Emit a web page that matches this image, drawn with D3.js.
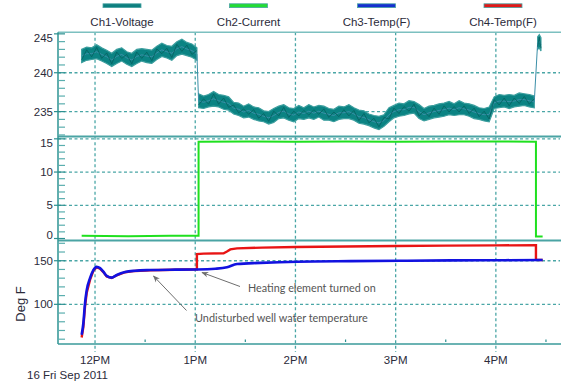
<!DOCTYPE html>
<html><head><meta charset="utf-8">
<script src="https://cdn.jsdelivr.net/npm/d3@7"></script>
<style>body{margin:0;background:#fff}svg{display:block}</style>
</head><body>
<svg id="c" width="561" height="383"></svg>
<script>
// ---------- data ----------
const DAY = "2011-09-16";
const xDomain = ["11:37:50", "16:38:24"];
const hourTicks = ["12:00", "13:00", "14:00", "15:00", "16:00"];
const hourLabels = ["12PM", "1PM", "2PM", "3PM", "4PM"];
const halfHourTicks = ["12:30", "13:30", "14:30", "15:30", "16:30"];
const dateLabel = "16 Fri Sep 2011";

const legendNames = ["Ch1-Voltage", "Ch2-Current", "Ch3-Temp(F)", "Ch4-Temp(F)"];

// Ch1 voltage: noisy band, sampled as low/high envelope
const voltSegStart = ["11:52", "13:02", "16:25"];
const voltSegStepMin = [3, 3, 1];
const voltHiA = [243.0,243.3,243.2,243.6,243.2,242.9,242.5,243.0,243.2,242.7,242.5,243.0,243.1,243.0,242.9,243.4,243.8,243.5,243.4,244.0,244.3,243.9,243.7,243.2];
const voltLoA = [241.3,241.6,241.7,241.8,241.5,241.2,240.8,241.2,241.5,241.1,240.8,241.2,241.5,241.3,241.2,241.7,242.1,241.9,241.6,242.2,242.4,242.2,242.0,241.6];
const voltHiB = [237.3,237.0,237.2,237.6,237.2,237.1,236.9,236.2,236.1,235.7, 236.0,235.6,235.5,235.1,235.0,235.4,235.7,235.9,235.5,235.4, 235.8,235.5,235.9,235.6,235.8,235.7,235.4,235.3,235.7,235.6, 235.9,235.5,235.2,235.1,234.7,234.5,234.4,234.6,235.5,235.8, 236.1,236.0,236.4,236.3,235.9,235.4,235.7,235.8,236.0,236.1, 236.3,236.0,236.4,236.1,236.0,235.8,235.5,235.4,235.6,236.9, 237.2,237.1,237.2,237.1,237.4,237.3,237.2,237.0];
const voltLoB = [235.5,235.4,235.6,235.7,235.6,235.3,235.2,234.7,234.5,234.2, 234.3,234.0,233.8,233.7,233.4,233.6,234.1,234.2,233.9,233.7, 234.1,234.0,234.2,234.0,234.3,233.9,233.9,233.7,234.0,234.1, 234.1,233.9,233.5,233.4,233.2,232.9,232.7,233.1,233.7,234.2, 234.4,234.5,234.7,234.8,234.1,233.8,234.0,234.2,234.3,234.4, 234.6,234.5,234.6,234.6,234.4,234.1,234.0,233.8,233.7,235.4, 235.5,235.6,235.4,235.6,235.7,235.8,235.6,235.5];
const voltHiC = [244.6,244.9,244.5];
const voltLoC = [243.0,243.2,242.8];

// Ch2 current
const currentTimes = ["11:52","12:20","12:45","13:02","13:02","13:30","14:00","14:30","15:00","15:30","16:00","16:24","16:24","16:28"];
const currentValues = [0.4,0.35,0.4,0.4,14.55,14.6,14.55,14.6,14.55,14.6,14.6,14.55,0.3,0.3];

// Ch3 temperature (blue)
const temp3Times = ["11:52","11:53","11:54","11:55","11:57","11:59","12:01","12:03","12:05","12:07","12:10","12:13","12:18","12:24","12:33","12:48","13:01","13:12","13:19","13:25","13:39","14:01","14:33","15:03","15:33","16:03","16:28"];
const temp3Values = [65,78,101,116,130,139.3,143,141.5,137.5,132.6,130.6,133.6,137,138.5,139.3,139.8,140,140.8,142.4,146.2,147.5,148.9,149.6,150,150.4,150.6,150.8];

// Ch4 temperature (red)
const temp4Times = ["11:52","11:53","11:54","11:55","11:57","11:59","12:01","12:03","12:05","12:07","12:10","12:13","12:18","12:24","12:33","12:48","13:01","13:01","13:05","13:17","13:19","13:21","13:25","13:40","14:00","14:30","15:00","15:30","16:00","16:24","16:24","16:28"];
const temp4Values = [62,74,97,113,128,138.5,142.5,141,137,132,130.3,133.3,136.8,138.3,139.1,139.6,140.2,157.6,158.2,158.6,160.5,163,164.2,165,165.8,166.4,166.9,167.3,167.6,167.8,151,150.8];

// axis ticks
const voltTickLabels = [245, 240, 235];
const currTickLabels = [15, 10, 5, 0];
const tempTickLabels = [150, 100];
const yTitle = "Deg F";
const annotations = ["Heating element turned on", "Undisturbed well water temperature"];

// ---------- layout ----------
const L = 58, R = 560;
const P1 = [32.3, 136.5], P2 = [136.5, 240.5], P3 = [240.5, 344];
const gridColor = "#4aa6a6", axisColor = "#3a9a9a";

const parseT = d3.timeParse("%Y-%m-%d %H:%M:%S");
const T = s => parseT(DAY + " " + (s.length === 5 ? s + ":00" : s));
const addMin = (d, m) => new Date(d.getTime() + m * 60000);

const x = d3.scaleTime().domain(xDomain.map(T)).range([L, R]);
const y1 = d3.scaleLinear().domain([231.8, 245.2]).range([P1[1], P1[0]]);
const y2 = d3.scaleLinear().domain([-0.3, 15.35]).range([P2[1], P2[0]]);
const y3 = d3.scaleLinear().domain([54.5, 173.2]).range([P3[1], P3[0]]);

const svg = d3.select("#c");
const defs = svg.append("defs");
defs.append("marker").attr("id", "ah").attr("viewBox", "0 0 10 10")
  .attr("refX", 9).attr("refY", 5).attr("markerWidth", 7).attr("markerHeight", 7)
  .attr("orient", "auto-start-reverse").attr("markerUnits", "userSpaceOnUse")
  .append("path").attr("d", "M0,1 L10,5 L0,9 L3,5 Z").attr("fill", "#6e6e6e");

// ---------- grid ----------
const g = svg.append("g");
const dash = "3,2.5";
hourTicks.forEach(h => {
  g.append("line").attr("x1", x(T(h))).attr("x2", x(T(h))).attr("y1", P1[0]).attr("y2", 352)
    .attr("stroke", gridColor).attr("stroke-width", 1.3).attr("stroke-dasharray", dash);
});
const hGrid = (scale, vals) => vals.forEach(v => {
  g.append("line").attr("x1", L).attr("x2", R).attr("y1", scale(v)).attr("y2", scale(v))
    .attr("stroke", gridColor).attr("stroke-width", 1.3).attr("stroke-dasharray", dash);
});
hGrid(y1, [240, 235]);
hGrid(y2, [15, 10, 5]);
hGrid(y3, [150, 100]);

// ---------- voltage ----------
const segs = [[voltHiA, voltLoA], [voltHiB, voltLoB], [voltHiC, voltLoC]].map((p, i) =>
  p[0].map((hi, j) => ({ t: addMin(T(voltSegStart[i]), j * voltSegStepMin[i]), hi, lo: p[1][j] })));
const area = d3.area().x(d => x(d.t)).y0(d => y1(d.lo)).y1(d => y1(d.hi));
segs.forEach(s => {
  svg.append("path").attr("d", area(s)).attr("fill", "#0b8383")
    .attr("stroke", "#3c9e9e").attr("stroke-width", 1.2).attr("stroke-linejoin", "miter");
});
const allV = segs.flat();
svg.append("path").attr("d", d3.line().x(d => x(d.t)).y(d => y1((d.hi + d.lo) / 2))(allV))
  .attr("fill", "none").attr("stroke", "#3b8fa8").attr("stroke-width", 1);
// zig-zag texture inside the band, alternating between envelope values
segs.forEach(s => {
  svg.append("path")
    .attr("d", d3.line().x(d => x(d.t)).y((d, j) => y1(j % 2 ? d.hi - 0.35 : d.lo + 0.35))(s))
    .attr("fill", "none").attr("stroke", "#066060").attr("stroke-width", 0.8);
});

// ---------- current ----------
svg.append("path")
  .attr("d", d3.line().x((d, i) => x(T(currentTimes[i]))).y(d => y2(d))(currentValues))
  .attr("fill", "none").attr("stroke", "#1fe01f").attr("stroke-width", 2);

// ---------- temps ----------
svg.append("path")
  .attr("d", d3.line().x((d, i) => x(T(temp4Times[i]))).y(d => y3(d))(temp4Values))
  .attr("fill", "none").attr("stroke", "#e81414").attr("stroke-width", 2.4);
svg.append("path")
  .attr("d", d3.line().curve(d3.curveMonotoneX).x((d, i) => x(T(temp3Times[i]))).y(d => y3(d))(temp3Values))
  .attr("fill", "none").attr("stroke", "#1212e0").attr("stroke-width", 2.6);

// ---------- axes frame ----------
[P1[0]].forEach(yy => svg.append("line").attr("x1", L).attr("x2", R + 1).attr("y1", yy).attr("y2", yy)
  .attr("stroke", "#7cc0c0").attr("stroke-width", 1.6));
[P1[1], P2[1]].forEach(yy => svg.append("line").attr("x1", L).attr("x2", R + 1).attr("y1", yy).attr("y2", yy)
  .attr("stroke", "#4aa4a4").attr("stroke-width", 2));
svg.append("line").attr("x1", L).attr("x2", R + 1).attr("y1", P3[1]).attr("y2", P3[1])
  .attr("stroke", axisColor).attr("stroke-width", 1.6);
svg.append("line").attr("x1", L).attr("x2", L).attr("y1", P1[0]).attr("y2", P3[1])
  .attr("stroke", axisColor).attr("stroke-width", 1.6);

// y ticks
const yTicks = (scale, step, labels, P) => {
  for (let v = Math.ceil(scale.domain()[0] / step) * step; v <= scale.domain()[1]; v += step) {
    const yy = scale(v);
    if (yy < P[0] + 1 || yy > P[1] - 1) continue;
    const major = labels.includes(+v.toFixed(3));
    svg.append("line").attr("x1", major ? 54 : L).attr("x2", 65).attr("y1", yy).attr("y2", yy)
      .attr("stroke", major ? "#2c9090" : "#5aaeae").attr("stroke-width", 1.2);
  }
  labels.forEach(v => {
    const yy = Math.max(P[0] + 6, Math.min(P[1] - 5.5, scale(v)));
    svg.append("text").attr("x", 53).attr("y", yy).attr("dy", "0.36em").attr("text-anchor", "end")
      .attr("font-family", "Liberation Sans, Arial, sans-serif").attr("font-size", 11.5)
      .attr("fill", "#2b2b3a").text(v);
  });
};
yTicks(y1, 1, voltTickLabels, P1);
yTicks(y2, 1, currTickLabels, P2);
yTicks(y3, 10, tempTickLabels, P3);

// x ticks
halfHourTicks.forEach(h => svg.append("line").attr("x1", x(T(h))).attr("x2", x(T(h)))
  .attr("y1", 339.5).attr("y2", 342).attr("stroke", "#2c9090").attr("stroke-width", 1.2));
hourTicks.forEach((h, i) => svg.append("text").attr("x", x(T(h))).attr("y", 364)
  .attr("text-anchor", "middle").attr("font-family", "Liberation Sans, Arial, sans-serif")
  .attr("font-size", 11.5).attr("fill", "#2b2b3a").text(hourLabels[i]));
svg.append("text").attr("x", 27).attr("y", 378.5).attr("font-family", "Liberation Sans, Arial, sans-serif")
  .attr("font-size", 11.5).attr("fill", "#2b2b3a").text(dateLabel);

svg.append("text").attr("transform", "translate(24.5,304) rotate(-90)").attr("text-anchor", "middle")
  .attr("font-family", "Liberation Sans, Arial, sans-serif").attr("font-size", 13)
  .attr("fill", "#2b2b3a").text(yTitle);

// ---------- legend ----------
const legendColors = ["#0d7f7f", "#22dd33", "#1530d0", "#e01818"];
const legendX = [122, 248.5, 376.5, 503];
legendNames.forEach((n, i) => {
  svg.append("rect").attr("x", legendX[i] - 19).attr("y", 3.8).attr("width", 38).attr("height", 3.8)
    .attr("fill", legendColors[i]).attr("stroke", "#4aa3a3").attr("stroke-width", 0.8);
  svg.append("text").attr("x", legendX[i]).attr("y", 26).attr("text-anchor", "middle")
    .attr("font-family", "Liberation Sans, Arial, sans-serif").attr("font-size", 11.5)
    .attr("fill", "#2b2b3a").text(n);
});

// ---------- annotations ----------
svg.append("line").attr("x1", 240).attr("y1", 286.5).attr("x2", 202).attr("y2", 272.5)
  .attr("stroke", "#6e6e6e").attr("stroke-width", 1).attr("marker-end", "url(#ah)");
svg.append("line").attr("x1", 186.5).attr("y1", 310.5).attr("x2", 153.5).attr("y2", 276)
  .attr("stroke", "#6e6e6e").attr("stroke-width", 1).attr("marker-end", "url(#ah)");
svg.append("text").attr("x", 248).attr("y", 291.5).attr("font-family", "Lato, sans-serif")
  .attr("font-size", 10.8).attr("fill", "#555").text(annotations[0]);
svg.append("text").attr("x", 195).attr("y", 321.5).attr("font-family", "Lato, sans-serif")
  .attr("font-size", 10.9).attr("fill", "#555").text(annotations[1]);
</script>
</body></html>
